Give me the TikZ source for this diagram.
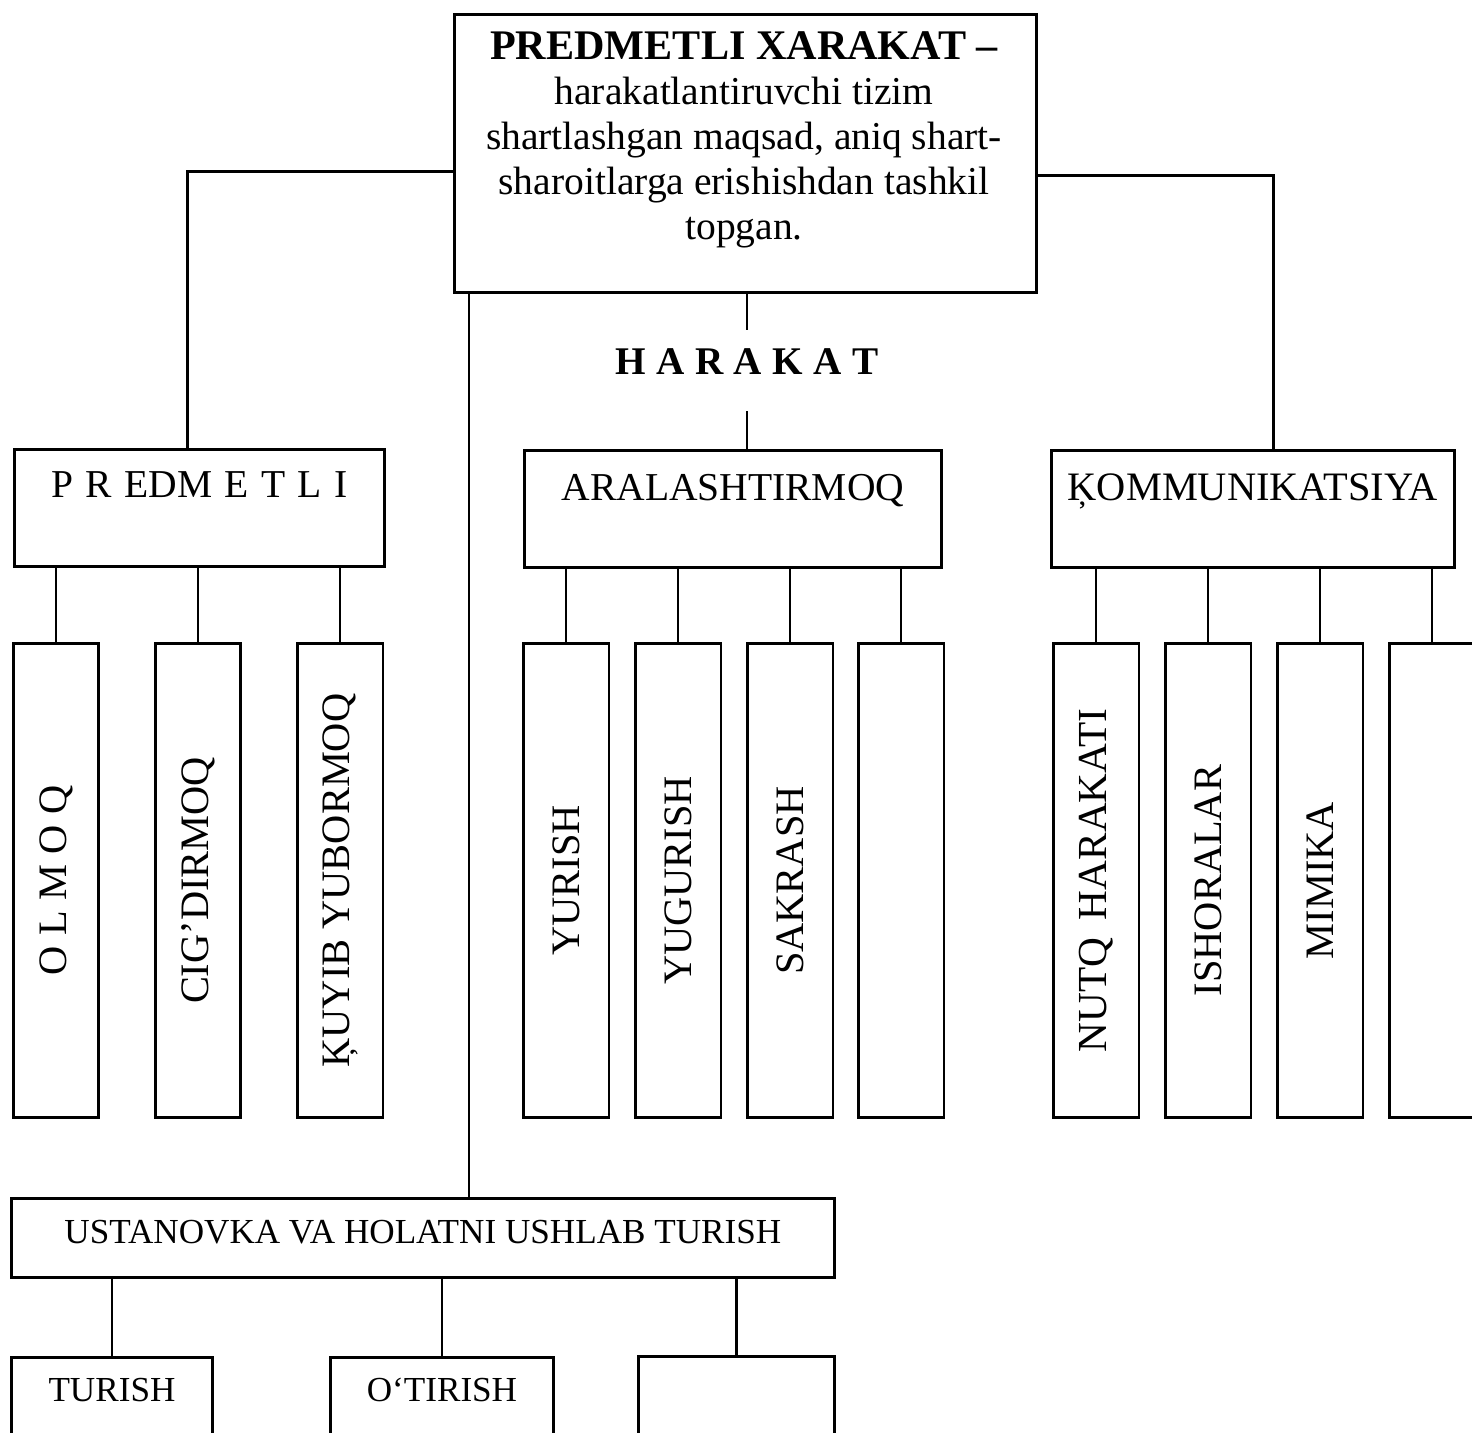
\documentclass[tikz,border=0pt]{standalone}
\usepackage{fontspec}
\setmainfont{Liberation Serif}
\newcommand\lsp{\kern6pt}
\newcommand\lspb{\kern7pt}
\begin{document}
\begin{tikzpicture}[x=0.02cm,y=-0.02cm,
  box/.style={draw,line width=1.7pt,inner sep=0pt},
  conn/.style={line width=1.2pt},
  midbox/.style={box,font=\fontsize{22.5}{27}\selectfont,text height=1.0cm,text depth=1.34cm,anchor=north west},
  vbox/.style={box,rotate=90,minimum width=9.5cm,minimum height=1.72cm,font=\fontsize{23}{27}\selectfont},
  lowbox/.style={box,font=\fontsize{20}{24}\selectfont,anchor=north west}]
\clip (0,0) rectangle (1472,1433);
\fill[white] (0,0) rectangle (1472,1433);
% top box
\node[box,minimum width=11.64cm,minimum height=5.56cm,anchor=north west] (top) at (453,13) {};
\node[anchor=north,align=center,inner sep=0pt,font=\fontsize{22.5}{25.6}\selectfont] (toptext) at (744,31)
  {{\fontsize{24}{25.6}\selectfont\bfseries PREDMETLI XARAKAT –}\\harakatlantiruvchi tizim\\shartlashgan maqsad, aniq shart-\\sharoitlarga erishishdan tashkil\\topgan.};
% HARAKAT label
\node[font=\fontsize{22.3}{26}\selectfont\bfseries,inner sep=0pt,text height=0.88cm,text depth=0.74cm,anchor=base] (har) at (747,374)
  {H\lsp A\lsp R\lsp A\lsp K\lsp A\lsp T};
% second level
\node[midbox,minimum width=7.4cm,text height=0.96cm,text depth=1.38cm] (pred) at (13,448)
  {P\lspb R\lspb EDM\lspb E\lspb T\lspb L\lspb I};
\node[midbox,minimum width=8.34cm] (aral) at (523,449) {ARALASHTIRMOQ};
\node[midbox,minimum width=8.06cm,font=\fontsize{23}{27}\selectfont] (kom) at (1050,449) {ĶOMMUNIKATSIYA};
% vertical boxes
\node[vbox] (o1) at (56,880.5) {O\lsp L\lsp M\lsp O\lsp Q};
\node[vbox] (o2) at (198,880.5) {CIG’DIRMOQ};
\node[vbox] (o3) at (340,880.5) {ĶUYIB YUBORMOQ};
\node[vbox] (a1) at (566,880.5) {YURISH};
\node[vbox] (a2) at (678,880.5) {YUGURISH};
\node[vbox] (a3) at (790,880.5) {SAKRASH};
\node[vbox] (a4) at (901,880.5) {};
\node[vbox,font=\fontsize{23.5}{27}\selectfont] (k1) at (1096,880.5) {NUTQ\kern4pt{} HARAKATI};
\node[vbox] (k2) at (1208,880.5) {ISHORALAR};
\node[vbox] (k3) at (1320,880.5) {MIMIKA};
\node[vbox] (k4) at (1432,880.5) {};
% bottom
\node[lowbox,minimum width=16.46cm,text height=0.9cm,text depth=0.68cm] (ust) at (10,1197) {USTANOVKA VA HOLATNI USHLAB TURISH};
\node[lowbox,minimum width=4.02cm,text height=0.88cm,text depth=1.0cm] (tur) at (10,1356) {TURISH};
\node[lowbox,minimum width=4.46cm,text height=0.88cm,text depth=1.0cm] (otir) at (329,1356) {O‘TIRISH};
\node[lowbox,minimum width=3.92cm,text height=0.9cm,text depth=1.0cm] (emp) at (637,1355) {};
% connectors
\draw[conn] ([yshift=-0.36cm]top.west) -| ([xshift=-0.24cm]pred.north);
\draw[conn] ([yshift=-0.44cm]top.east) -| ([xshift=0.41cm]kom.north);
\draw[conn] (top.south -| har.north) -- (har.north);
\draw[conn] (har.south) -- (har.south |- aral.north);
\coordinate (ustin) at ([xshift=0.93cm]ust.north);
\draw[conn] (top.south -| ustin) -- (ustin);
\foreach \c in {o1,o2,o3} \draw[conn] (pred.south -| \c.east) -- (\c.east);
\foreach \c in {a1,a2,a3,a4} \draw[conn] (aral.south -| \c.east) -- (\c.east);
\foreach \c in {k1,k2,k3,k4} \draw[conn] (kom.south -| \c.east) -- (\c.east);
\foreach \c in {tur,otir,emp} \draw[conn] (ust.south -| \c.north) -- (\c.north);
\end{tikzpicture}
\end{document}
